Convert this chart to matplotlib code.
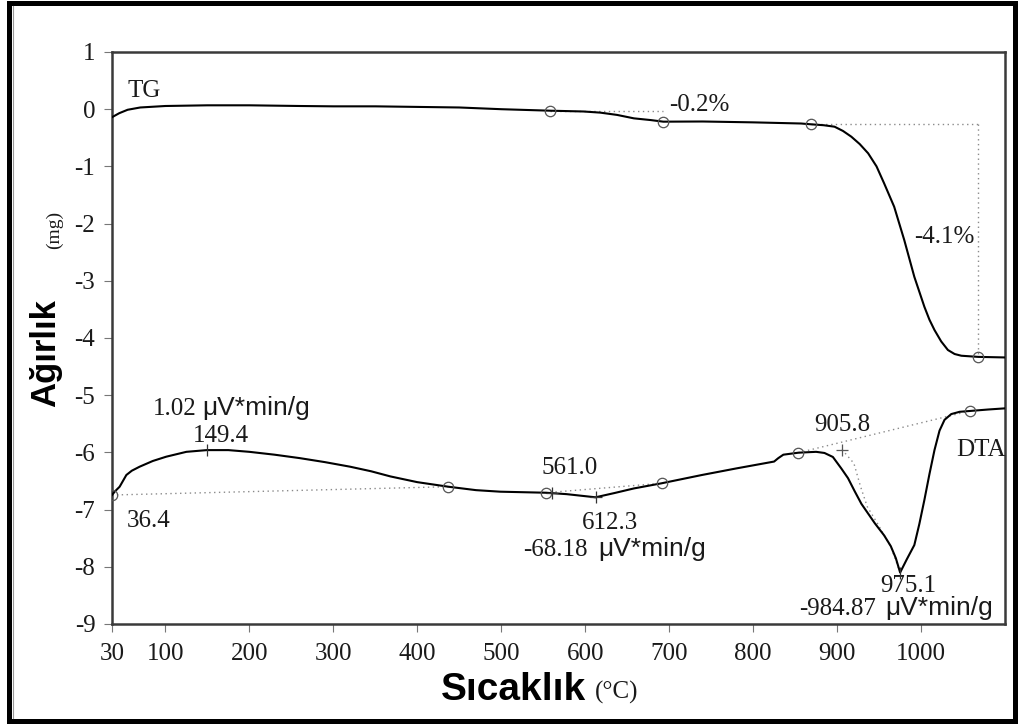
import numpy as np
import matplotlib
matplotlib.use("Agg")
import matplotlib.pyplot as plt
from matplotlib.patches import Rectangle
from matplotlib.lines import Line2D

SERIF = "Liberation Serif"
SANS = "Liberation Sans"

# ---------------- data ----------------
tg_temp = [36.4, 45, 55, 70, 100, 150, 200, 260, 300, 350, 400, 450, 500, 558,
           598, 618, 638, 658, 678, 693, 740, 800, 857, 869, 884, 897, 907, 917,
           927, 937, 947, 956, 968, 980, 992, 1004, 1010, 1016, 1024, 1032, 1040,
           1048, 1068, 1100]
tg_mass = [-0.14, -0.07, -0.01, 0.03, 0.056, 0.068, 0.068, 0.056, 0.05, 0.05,
           0.04, 0.03, 0.0, -0.026, -0.04, -0.06, -0.10, -0.16, -0.19, -0.218,
           -0.215, -0.23, -0.25, -0.264, -0.28, -0.306, -0.38, -0.481, -0.61,
           -0.771, -1.0, -1.295, -1.705, -2.287, -2.93, -3.455, -3.68, -3.86,
           -4.06, -4.21, -4.28, -4.31, -4.33, -4.34]

dta_temp = [36.4, 40, 45.5, 53.5, 60, 69.3, 85, 101, 125, 149.4, 175, 200, 230,
            260, 290, 320, 345, 368, 400, 437, 470, 499, 553, 578, 612.3, 635,
            658, 691, 739, 780, 825, 830, 836, 854, 875, 885, 895, 905, 913, 921,
            929, 937, 945, 956, 964, 970, 975.1, 983, 992, 998, 1004, 1010, 1016,
            1022, 1028, 1036, 1046, 1058, 1080, 1100]
dta_signal = [-6.745, -6.68, -6.60, -6.395, -6.32, -6.25, -6.15, -6.075, -5.99,
              -5.96, -5.96, -5.99, -6.04, -6.10, -6.17, -6.25, -6.33, -6.42,
              -6.52, -6.60, -6.66, -6.687, -6.705, -6.73, -6.785, -6.71, -6.63,
              -6.54, -6.395, -6.28, -6.16, -6.10, -6.04, -6.005, -5.99, -6.01,
              -6.08, -6.28, -6.45, -6.68, -6.90, -7.07, -7.24, -7.45, -7.64,
              -7.85, -8.10, -7.87, -7.62, -7.25, -6.83, -6.38, -5.96, -5.62,
              -5.43, -5.33, -5.29, -5.276, -5.25, -5.23]

# TG step evaluation points and mass-loss labels
tg_step_temp = [558, 693, 869, 1068]
tg_loss_labels = ["-0.2%", "-4.1%"]

# DTA evaluation points
dta_circle_temp = [36.4, 437, 553, 691, 854, 1058]
dta_peak_temp = [149.4, 561.0, 612.3, 975.1]
dta_peak_marker = ["|", "+", "+", "|"]
dta_onset_temp = 905.8
dta_onset_level = -5.95
dta_tangent_temp = [905.8, 920, 928, 936, 948, 964, 975.1]
dta_tangent_level = [-5.95, -6.19, -6.6, -6.95, -7.24, -7.65, -8.10]
dta_area_labels = ["1.02", "-68.18", "-984.87"]
area_unit = "\u03bcV*min/g"

# axes ticks
xtick_vals = [36.4, 100, 200, 300, 400, 500, 600, 700, 800, 900, 1000]
xtick_labels = ["30", "100", "200", "300", "400", "500", "600", "700", "800",
                "900", "1000"]
ytick_vals = [1, 0, -1, -2, -3, -4, -5, -6, -7, -8, -9]

# ---------------- figure ----------------
W, H = 1020, 724
fig = plt.figure(figsize=(W / 100, H / 100), dpi=100)
fig.patch.set_facecolor("white")
ax = fig.add_axes([112 / W, 1 - 624 / H, (1005 - 112) / W, (624 - 52) / H])
ax.set_xlim(36.4, 1100)
ax.set_ylim(-9, 1)

def tg_at(t):
    return float(np.interp(t, tg_temp, tg_mass))

def dta_at(t):
    return float(np.interp(t, dta_temp, dta_signal))

LINE = dict(color="black", lw=1.5)
DOT = dict(color="#8a8a8a", lw=1.0, ls=(0, (1, 2.5)))
CIRC = dict(marker="o", ms=7.5, mfc="none", mec="#555555", mew=0.9, ls="none")

# curves
ax.plot(tg_temp, tg_mass, **LINE, zorder=3)
ax.plot(dta_temp, dta_signal, **LINE, zorder=3)

# TG construction lines
t0, t1, t2, t3 = tg_step_temp
ax.plot([t0, t1], [tg_at(t0), tg_at(t0)], **DOT, zorder=2)
ax.plot([t2, t3], [tg_at(t2), tg_at(t2)], **DOT, zorder=2)
ax.plot([t3, t3], [tg_at(t2), tg_at(t3)], **DOT, zorder=2)
ax.plot(tg_step_temp, [tg_at(t) for t in tg_step_temp], **CIRC, zorder=4)

# DTA construction lines
c = dta_circle_temp
for a, b in [(c[0], c[1]), (c[2], c[3]), (c[4], c[5])]:
    ax.plot([a, b], [dta_at(a), dta_at(b)], **DOT, zorder=2)
ax.plot(dta_tangent_temp, dta_tangent_level, **DOT, zorder=2)
ax.plot(dta_circle_temp, [dta_at(t) for t in dta_circle_temp], **CIRC, zorder=4)
for t, m in zip(dta_peak_temp, dta_peak_marker):
    ax.plot([t], [dta_at(t)], marker=m, ms=9, mew=0.9, color="#333333",
            ls="none", zorder=5)
ax.plot([dta_onset_temp], [dta_onset_level], marker="+", ms=9, mew=0.9,
        color="#555555", ls="none", zorder=5)

# ---------------- texts ----------------
FS = 18
UFS = 19
tkw = dict(fontsize=FS, family=SERIF, color="#1a1a1a")

ax.text(55, 0.32, "TG", ha="left", va="center", **tkw)
ax.text(1042, -6.06, "DTA", ha="left", va="baseline", **tkw)
ax.text(700, -0.03, tg_loss_labels[0], ha="left", va="baseline", **tkw)
ax.text(1064, -2.23, tg_loss_labels[1], ha="right", va="center", **tkw)

ax.text(53.5, -7.30, f"{dta_circle_temp[0]:.1f}", ha="left", va="baseline", **tkw)
ax.text(166, -5.82, f"{dta_peak_temp[0]:.1f}", ha="center", va="baseline", **tkw)
ax.text(581, -6.38, f"{dta_peak_temp[1]:.1f}", ha="center", va="baseline", **tkw)
ax.text(629, -7.34, f"{dta_peak_temp[2]:.1f}", ha="center", va="baseline", **tkw)
ax.text(872.5, -5.63, f"{dta_onset_temp:.1f}", ha="left", va="baseline", **tkw)
ax.text(985, -8.44, f"{dta_peak_temp[3]:.1f}", ha="center", va="baseline", **tkw)


def area_text(x, y, num, gap):
    t = ax.text(x, y, num, ha="left", va="baseline", **tkw)
    ax.annotate(area_unit, xy=(1, 0), xycoords=t, xytext=(gap, 0),
                textcoords="offset points", ha="left", va="bottom",
                fontsize=UFS, family=SANS, color="#1a1a1a")


area_text(85, -5.35, dta_area_labels[0], 4)
area_text(525.5, -7.81, dta_area_labels[1], 8)
area_text(854.6, -8.84, dta_area_labels[2], 7)

# ---------------- axes styling ----------------
for s in ax.spines.values():
    s.set_color("#3a3a3a")
    s.set_linewidth(1.8)
ax.set_xticks(xtick_vals)
ax.set_xticklabels(xtick_labels)
ax.set_yticks(ytick_vals)
ax.set_yticklabels([str(v) for v in ytick_vals])
ax.tick_params(direction="out", length=6, width=0.8, color="#777777",
               labelcolor="#1a1a1a", labelsize=FS)
ax.tick_params(axis="x", pad=8)
ax.tick_params(axis="y", pad=6)
for lab in ax.get_xticklabels() + ax.get_yticklabels():
    lab.set_family(SERIF)

# axis labels built from two fonts
fig.text(514 / W, 1 - 700 / H, "S\u0131cakl\u0131k", ha="center", va="baseline",
         fontsize=28, family=SANS, weight="bold", color="black")
fig.text(617 / W, 1 - 692 / H, "(\u00b0C)", ha="center", va="center",
         fontsize=18, family=SERIF, color="#1a1a1a")
fig.text(46 / W, 1 - 353 / H, "A\u011f\u0131rl\u0131k", ha="center", va="center",
         rotation=90, fontsize=25, family=SANS, weight="bold", color="black")
fig.text(54 / W, 1 - 230 / H, "(mg)", ha="center", va="center", rotation=90,
         fontsize=14, family=SERIF, color="#1a1a1a")

# outer frame
fig.add_artist(Rectangle((9 / W, 3 / H), (1015 - 9) / W, (721 - 3) / H,
                         transform=fig.transFigure, fill=False, lw=3.6,
                         ec="black"))
fig.add_artist(Line2D([13.5 / W, 13.5 / W], [6 / H, 718 / H],
                      transform=fig.transFigure, color="#9a9a9a", lw=0.8))

fig.savefig("out.png", dpi=100)
